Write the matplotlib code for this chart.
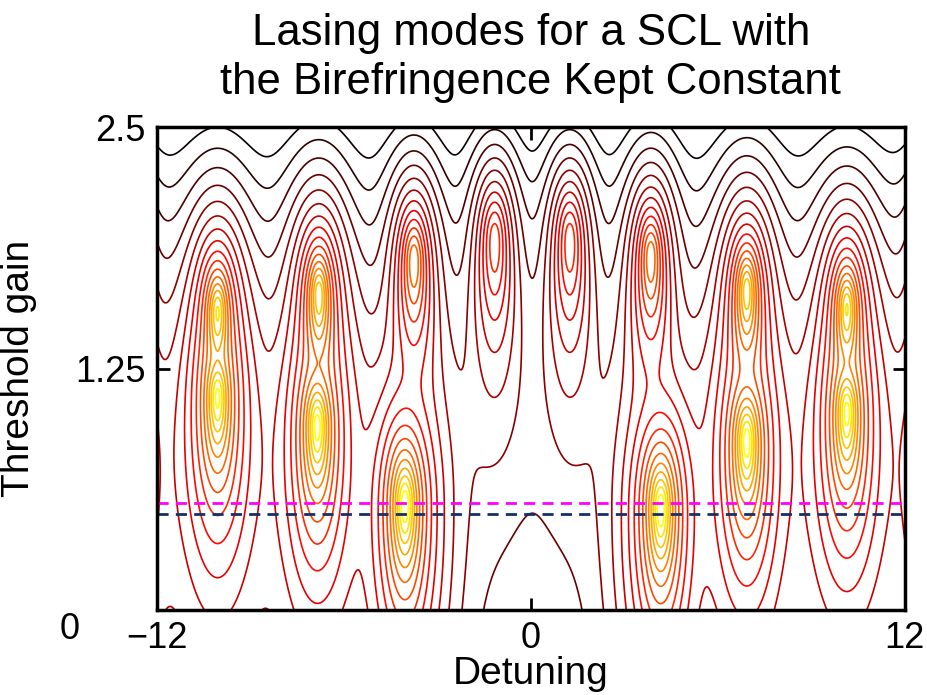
import numpy as np
import matplotlib.pyplot as plt
from matplotlib.colors import LinearSegmentedColormap
from matplotlib.transforms import ScaledTranslation

plt.rcParams['font.family'] = ['Liberation Sans', 'DejaVu Sans']

# lasing modes: detuning, threshold gain, strength, core width
mode_detuning = [-13.3, -13.3, -10.05, -10.05, -6.85, -6.80, -4.04, -3.75, -1.16,
                 1.25, 3.85, 4.17, 6.93, 6.93, 10.14, 10.14, 13.3, 13.3]
mode_gain = [0.85, 1.75, 1.11, 1.55, 0.96, 1.64, 0.55, 1.82, 1.93,
             1.93, 1.84, 0.53, 0.88, 1.66, 1.03, 1.57, 0.85, 1.75]
mode_strength = [1.0, 1.0, 1.0, 1.0, 1.0, 1.0, 0.9, 0.5, 0.35,
                 0.35, 0.5, 0.9, 1.0, 1.0, 1.0, 1.0, 1.0, 1.0]
mode_core = [0.03, 0.03, 0.03, 0.03, 0.03, 0.03, 0.03, 0.05, 0.08,
             0.08, 0.05, 0.03, 0.03, 0.03, 0.03, 0.03, 0.03, 0.03]

gain_line_1 = 0.554   # magenta dashed
gain_line_2 = 0.500   # navy dashed

x_ticks = [-12, 0, 12]
x_ticklabels = ['\u221212', '0', '12']
y_ticks = [0, 1.25, 2.5]
y_ticklabels = ['0', '1.25', '2.5']

det = np.linspace(-12, 12, 900)
gain = np.linspace(0, 2.5, 600)
D, G = np.meshgrid(det, gain)
a_up, a_down = 1.6, 1.2
decay, g0 = 1.3, 1.0
S = np.full_like(D, 3e-4)
for xm, ym, w, e in zip(mode_detuning, mode_gain, mode_strength, mode_core):
    dy = G - ym
    dy = np.where(dy > 0, a_up * dy, a_down * dy)
    S += w / ((D - xm) ** 2 + dy ** 2 + e) ** 2
# extra round-trip loss above g0
Z = 0.5 * np.log(S) - decay * 0.3 * np.logaddexp(0, (G - g0) / 0.3)

hot = plt.get_cmap('hot')
cmap = LinearSegmentedColormap.from_list('hot_cut', hot(np.linspace(0.0, 0.8, 256)))

fig = plt.figure(figsize=(9.28, 6.95), dpi=100)
ax = fig.add_axes([0.169, 0.122, 0.806, 0.695])

levels = np.linspace(Z.min(), Z.max(), 19)[1:]
ax.contour(D, G, Z, levels=levels, cmap=cmap, linewidths=1.2)

ax.axhline(gain_line_1, color='#ff00ff', ls=(0, (4, 2.6)), lw=2.0)
ax.axhline(gain_line_2, color='#13306b', ls=(0, (4, 2.6)), lw=2.0)

ax.set_xlim(-12, 12)
ax.set_ylim(0, 2.5)
ax.set_xticks(x_ticks)
ax.set_xticklabels(x_ticklabels)
ax.set_yticks(y_ticks)
ax.set_yticklabels(y_ticklabels)
ax.tick_params(direction='in', length=9, width=2, labelsize=26, top=True, right=True)
ax.tick_params(axis='x', pad=8)
ax.tick_params(axis='y', pad=8)
for s in ax.spines.values():
    s.set_linewidth(2.5)

# the zero label sits lower left, clear of the -12
zero_lbl = ax.get_yticklabels()[0]
zero_lbl.set_transform(zero_lbl.get_transform() + ScaledTranslation(-0.66, -0.15, fig.dpi_scale_trans))

ax.set_xlabel('Detuning', fontsize=28, labelpad=0)
ax.set_ylabel('Threshold gain', fontsize=28, labelpad=16)
ax.set_title('Lasing modes for a SCL with\nthe Birefringence Kept Constant', fontsize=31.5, pad=24,
             linespacing=1.25)

fig.savefig('out.png', dpi=100)
